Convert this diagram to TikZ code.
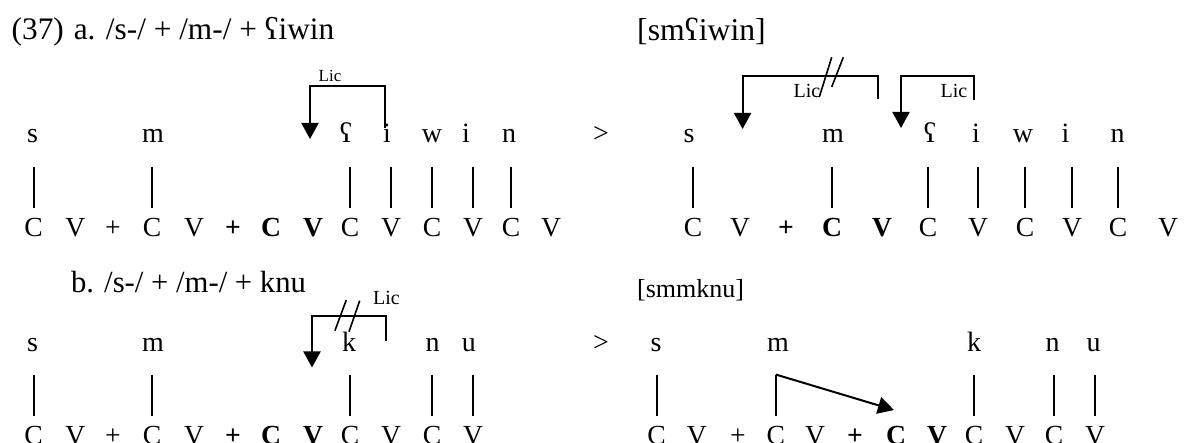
\documentclass[tikz,border=0pt]{standalone}
\usepackage{fontspec}
\setmainfont{Liberation Serif}
\usetikzlibrary{arrows.meta}
\begin{document}
\begin{tikzpicture}[x=1pt,y=-1pt,
  seg/.style={inner sep=0pt,anchor=base,font=\fontsize{27.6}{30}\selectfont},
  bseg/.style={inner sep=0pt,anchor=base,font=\fontsize{27.6}{30}\selectfont\bfseries},
  mel/.style={inner sep=0pt,anchor=base,font=\fontsize{28}{30}\selectfont},
  ttl/.style={inner sep=0pt,anchor=base west,font=\fontsize{31}{33}\selectfont},
  lic/.style={inner sep=0pt,font=\fontsize{20}{22}\selectfont},
  assoc/.style={line width=1.8pt},
  licarrow/.style={line width=2pt,-{Triangle[length=16pt,width=17pt]}},
  cutmark/.style={line width=1.6pt}]
\useasboundingbox (0,0) rectangle (1184,443);

% ---------- titles ----------
\node[ttl,font=\fontsize{31.3}{33}\selectfont] (ta) at (11.5,40) {(37)\hspace{10pt}a. /s-/ + /m-/ + ʕiwin};
\node[ttl,font=\fontsize{31.7}{33}\selectfont] (ra) at (637,41) {[smʕiwin]};
\node[ttl,font=\fontsize{30.7}{33}\selectfont] (tb) at (70.8,293) {b. /s-/ + /m-/ + knu};
\node[ttl,font=\fontsize{26}{28}\selectfont] (rb) at (637,298) {[smmknu]};

\node[mel] (gta) at (601,143) {>};
\node[mel] (gtb) at (601,352) {>};

% ---------- (a) left ----------
\foreach \n/\x/\t in {s/32.5/s,m/153/m,ain/346/ʕ,i/387/i,w/432/w,ii/466/i,n/509/n}
  \node[mel] (aLm\n) at (\x,143) {\t};
\foreach \n/\x/\t in {C1/33.7/C,V1/75.4/V,P1/113/+,C2/152/C,V2/194/V,C4/350/C,V4/391/V,C5/432/C,V5/473/V,C6/511/C,V6/551/V}
  \node[seg] (aL\n) at (\x,237) {\t};
\foreach \n/\x/\t in {P2/233/+,C3/271/C,V3/313/V}
  \node[bseg] (aL\n) at (\x,237) {\t};
\foreach \n in {C1,C2,C4,V4,C5,V5,C6}
  \draw[assoc] ([yshift=52pt]aL\n.north) -- ([yshift=11pt]aL\n.north);
\coordinate (aLr) at (384.6,128);
\coordinate (aLt) at (384.6,86);
\coordinate (aLl) at (310,86);
\coordinate (aLtip) at (310,139);
\draw[licarrow] (aLr) -- (aLt) -- (aLl) -- (aLtip);
\node[lic,font=\fontsize{17}{19}\selectfont] (aLlic) at (330,76) {Lic};

% ---------- (a) right ----------
\foreach \n/\x/\t in {s/689/s,m/833/m,ain/930/ʕ,i/976/i,w/1023/w,ii/1065.5/i,n/1117.7/n}
  \node[mel] (aRm\n) at (\x,143) {\t};
\foreach \n/\x/\t in {C1/693/C,V1/740/V,C4/928/C,V4/978/V,C5/1025/C,V5/1072/V,C6/1118/C,V6/1168/V}
  \node[seg] (aR\n) at (\x,237) {\t};
\foreach \n/\x/\t in {P1/786/+,C3/832/C,V3/882/V}
  \node[bseg] (aR\n) at (\x,237) {\t};
\foreach \n in {C1,C3,C4,V4,C5,V5,C6}
  \draw[assoc] ([yshift=52pt]aR\n.north) -- ([yshift=11pt]aR\n.north);
\coordinate (aR1r) at (877.5,99);
\coordinate (aR1t) at (877.5,76);
\coordinate (aR1l) at (742.6,76);
\coordinate (aR1tip) at (742.6,129);
\draw[licarrow] (aR1r) -- (aR1t) -- (aR1l) -- (aR1tip);
\node[lic] (aR1lic) at (807,91) {Lic};
\draw[cutmark] (831.7,57.3) -- (819.3,97);
\draw[cutmark] (843.3,57.3) -- (831.7,87);
\coordinate (aR2r) at (974.3,100);
\coordinate (aR2t) at (974.3,76);
\coordinate (aR2l) at (901,76);
\coordinate (aR2tip) at (901,128);
\draw[licarrow] (aR2r) -- (aR2t) -- (aR2l) -- (aR2tip);
\node[lic] (aR2lic) at (954,91) {Lic};

% ---------- (b) left ----------
\foreach \n/\x/\t in {s/32.5/s,m/153/m,k/349/k,n/432.5/n,u/468.8/u}
  \node[mel] (bLm\n) at (\x,351.7) {\t};
\foreach \n/\x/\t in {C1/33.7/C,V1/75.4/V,P1/113/+,C2/152/C,V2/194/V,C4/350/C,V4/391/V,C5/432/C,V5/473/V}
  \node[seg] (bL\n) at (\x,445) {\t};
\foreach \n/\x/\t in {P2/233/+,C3/271/C,V3/313/V}
  \node[bseg] (bL\n) at (\x,445) {\t};
\foreach \n in {C1,C2,C4,C5,V5}
  \draw[assoc] ([yshift=52pt]bL\n.north) -- ([yshift=11pt]bL\n.north);
\coordinate (bLr) at (385.8,340.7);
\coordinate (bLt) at (385.8,315.7);
\coordinate (bLl) at (312,315.7);
\coordinate (bLtip) at (312,367.5);
\draw[licarrow] (bLr) -- (bLt) -- (bLl) -- (bLtip);
\node[lic] (bLlic) at (386.5,298.3) {Lic};
\draw[cutmark] (346.3,300) -- (334.9,330.7);
\draw[cutmark] (359.7,300.7) -- (349,331.7);

% ---------- (b) right ----------
\foreach \n/\x/\t in {s/656/s,m/778/m,k/974/k,n/1052.5/n,u/1093.5/u}
  \node[mel] (bRm\n) at (\x,351.7) {\t};
\foreach \n/\x/\t in {C1/656.6/C,V1/696.8/V,P1/737.8/+,C2/775.8/C,V2/815/V,C4/974/C,V4/1015/V,C5/1054/C,V5/1095/V}
  \node[seg] (bR\n) at (\x,445) {\t};
\foreach \n/\x/\t in {P2/855/+,C3/896/C,V3/937/V}
  \node[bseg] (bR\n) at (\x,445) {\t};
\foreach \n in {C1,C4,C5,V5}
  \draw[assoc] ([yshift=52pt]bR\n.north) -- ([yshift=11pt]bR\n.north);
\draw[assoc] ([yshift=11pt]bRC2.north) -- ([yshift=52pt]bRC2.north);
\draw[licarrow] ([yshift=52pt]bRC2.north) -- ([xshift=-2pt,yshift=16.5pt]bRC3.north);
\end{tikzpicture}
\end{document}
